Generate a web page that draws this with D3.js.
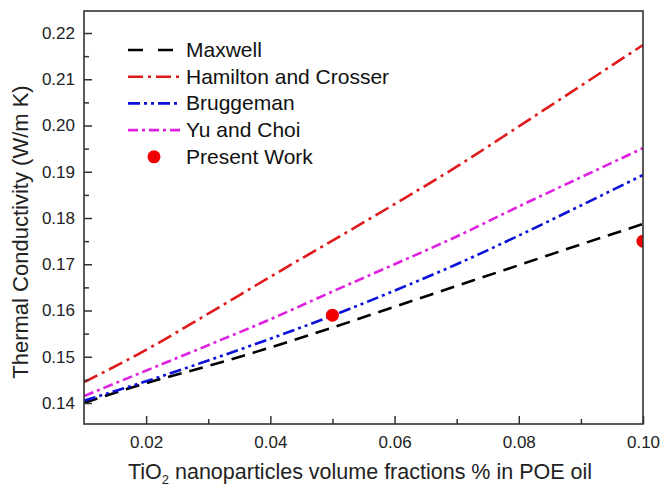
<!DOCTYPE html>
<html>
<head>
<meta charset="utf-8">
<script src="https://cdn.jsdelivr.net/npm/d3@7"></script>
<style>
  html, body { margin: 0; padding: 0; background: #fff; }
  svg { display: block; font-family: "Liberation Sans", Arial, sans-serif; }
</style>
</head>
<body>
<svg id="chart" width="661" height="490"></svg>
<script>
// ---- data ----
const fractions   = [0.01, 0.02, 0.03, 0.04, 0.05, 0.06, 0.07, 0.08, 0.09, 0.10];
const maxwell     = [0.1400, 0.1443, 0.1480, 0.1520, 0.1563, 0.1608, 0.1653, 0.1698, 0.1743, 0.1787];
const hamilton    = [0.1445, 0.1515, 0.1593, 0.1673, 0.1751, 0.1830, 0.1911, 0.1998, 0.2086, 0.2174];
const bruggeman   = [0.1405, 0.1447, 0.1492, 0.1539, 0.1589, 0.1643, 0.1700, 0.1762, 0.1827, 0.1893];
const yuChoi      = [0.1415, 0.1470, 0.1525, 0.1581, 0.1641, 0.1700, 0.1760, 0.1825, 0.1888, 0.1951];
const presentX    = [0.05, 0.10];
const presentY    = [0.159, 0.175];
const xTicks      = [0.02, 0.04, 0.06, 0.08, 0.10];
const xMinor      = [0.03, 0.05, 0.07, 0.09];
const yTicks      = [0.14, 0.15, 0.16, 0.17, 0.18, 0.19, 0.20, 0.21, 0.22];
const yMinor      = [0.145, 0.155, 0.165, 0.175, 0.185, 0.195, 0.205, 0.215];

const series = [
  { name: "Maxwell", values: maxwell, color: "#000000", dash: "14,8" },
  { name: "Hamilton and Crosser", values: hamilton, color: "#e0191b", dash: "15,5,3,5" },
  { name: "Bruggeman", values: bruggeman, color: "#0a10d8", dash: "12,4,3,4,3,4" },
  { name: "Yu and Choi", values: yuChoi, color: "#e020e0", dash: "10,4,3,4" }
];

// ---- layout ----
const svg = d3.select("#chart");
const L = 84, R = 643, T = 11, B = 424;
const x = d3.scaleLinear().domain([0.01, 0.10]).range([L, R]);
const y = d3.scaleLinear().domain([0.13546, 0.22476]).range([B, T]);

// lines
const line = d3.line().x((d, i) => x(fractions[i])).y(d => y(d)).curve(d3.curveMonotoneX);
const plot = svg.append("g");
plot.append("clipPath").attr("id", "clip").append("rect")
  .attr("x", L).attr("y", T).attr("width", R - L).attr("height", B - T);
const lines = plot.append("g").attr("clip-path", "url(#clip)");
series.forEach(s => {
  lines.append("path")
    .datum(s.values)
    .attr("d", line)
    .attr("fill", "none")
    .attr("stroke", s.color)
    .attr("stroke-width", 2.6)
    .attr("stroke-dasharray", s.dash);
});
// present work points
lines.selectAll("circle.pw").data(presentX).join("circle")
  .attr("class", "pw")
  .attr("cx", d => x(d))
  .attr("cy", (d, i) => y(presentY[i]))
  .attr("r", 6.5)
  .attr("fill", "#f00000");

// axes
const axisColor = "#333";
const xAxis = svg.append("g").attr("transform", `translate(0,${B})`)
  .call(d3.axisBottom(x).tickValues(xTicks).tickSize(-8).tickPadding(12).tickFormat(d3.format(".2f")));
const xAxisMinor = svg.append("g").attr("transform", `translate(0,${B})`)
  .call(d3.axisBottom(x).tickValues(xMinor).tickSize(-5).tickFormat(""));
const yAxis = svg.append("g").attr("transform", `translate(${L},0)`)
  .call(d3.axisLeft(y).tickValues(yTicks).tickSize(-8).tickPadding(9).tickFormat(d3.format(".2f")));
const yAxisMinor = svg.append("g").attr("transform", `translate(${L},0)`)
  .call(d3.axisLeft(y).tickValues(yMinor).tickSize(-5).tickFormat(""));
[xAxis, xAxisMinor, yAxis, yAxisMinor].forEach(g => {
  g.select(".domain").remove();
  g.selectAll(".tick line").attr("stroke", axisColor).attr("stroke-width", 1.5);
  g.selectAll(".tick text").attr("fill", "#222").style("font-size", "17px");
});

// frame
svg.append("rect").attr("x", L).attr("y", T).attr("width", R - L).attr("height", B - T)
  .attr("fill", "none").attr("stroke", axisColor).attr("stroke-width", 1.6);

// axis titles
const xt = svg.append("text")
  .attr("x", 360).attr("y", 479)
  .attr("text-anchor", "middle").attr("fill", "#222")
  .style("font-size", "21.5px");
xt.append("tspan").text("TiO");
xt.append("tspan").text("2").attr("dy", 5).style("font-size", "13px");
xt.append("tspan").text(" nanoparticles volume fractions % in POE oil").attr("dy", -5);

svg.append("text")
  .attr("transform", `translate(28,232) rotate(-90)`)
  .attr("text-anchor", "middle").attr("fill", "#222")
  .style("font-size", "22px")
  .text("Thermal Conductivity (W/m K)");

// legend
const legend = svg.append("g");
const rowY0 = 50, rowH = 26.7;
series.forEach((s, i) => {
  const yy = rowY0 + i * rowH;
  legend.append("line")
    .attr("x1", 128).attr("x2", 180).attr("y1", yy).attr("y2", yy)
    .attr("stroke", s.color).attr("stroke-width", 2.6)
    .attr("stroke-dasharray", i === 0 ? "15,15" : s.dash);
  legend.append("text")
    .attr("x", 186).attr("y", yy + 6.8)
    .attr("fill", "#111").style("font-size", "21px")
    .text(s.name);
});
const pyy = rowY0 + 4 * rowH;
legend.append("circle").attr("cx", 154).attr("cy", pyy).attr("r", 6.5).attr("fill", "#f00000");
legend.append("text").attr("x", 186).attr("y", pyy + 6.8)
  .attr("fill", "#111").style("font-size", "21px").text("Present Work");
</script>
</body>
</html>
